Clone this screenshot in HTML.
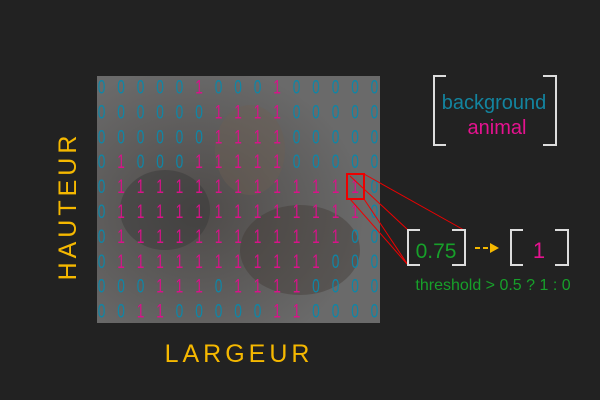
<!DOCTYPE html>
<html><head><meta charset="utf-8"><style>
html,body{margin:0;padding:0;background:#222;}
svg{display:block}
text{font-family:"Liberation Sans",sans-serif}
</style></head><body>
<svg width="600" height="400" viewBox="0 0 600 400" xmlns="http://www.w3.org/2000/svg">
<rect width="600" height="400" fill="#222"/>
<defs>
<radialGradient id="g1" cx="0.35" cy="0.55" r="0.6">
<stop offset="0" stop-color="#4e4a48"/><stop offset="1" stop-color="#6a6a6a"/>
</radialGradient>
</defs>
<rect x="97" y="76" width="283" height="247" fill="url(#g1)"/>
<ellipse cx="165" cy="210" rx="45" ry="40" fill="#3a3a3a" opacity="0.5"/>
<ellipse cx="250" cy="150" rx="35" ry="45" fill="#6e5e52" opacity="0.4"/>
<ellipse cx="300" cy="250" rx="60" ry="45" fill="#3e3632" opacity="0.4"/>
<g id="grid" font-size="19" text-anchor="middle" transform="scale(0.72,1)">
</g>
<rect x="347" y="174" width="17" height="25" fill="none" stroke="#e00" stroke-width="2"/>
<g stroke="#e00" stroke-width="1" fill="none">
<line x1="364" y1="174" x2="464" y2="230"/>
<line x1="350" y1="176" x2="408" y2="230"/>
<line x1="364" y1="199" x2="408" y2="265"/>
<line x1="350" y1="199" x2="408" y2="265"/>
</g>
<g stroke="#ddd" stroke-width="2" fill="none">
<polyline points="446,76 434,76 434,145 446,145"/>
<polyline points="543,76 556,76 556,145 543,145"/>
<polyline points="420,230 408,230 408,265 420,265"/>
<polyline points="452,230 465,230 465,265 452,265"/>
<polyline points="523,230 511,230 511,265 523,265"/>
<polyline points="555,230 568,230 568,265 555,265"/>
</g>
<text x="494" y="109" font-size="20" fill="#13849f" text-anchor="middle">background</text>
<text x="497" y="134" font-size="20" fill="#e5128f" text-anchor="middle">animal</text>
<text x="436" y="258" font-size="21" fill="#17a02a" text-anchor="middle">0.75</text>
<text x="539" y="258" font-size="22" fill="#e5128f" text-anchor="middle">1</text>
<line x1="475" y1="248" x2="492" y2="248" stroke="#f5b800" stroke-width="2" stroke-dasharray="5,3"/>
<polygon points="490,243 499,248 490,253" fill="#f5b800"/>
<text x="493" y="290" font-size="16" fill="#17a02a" text-anchor="middle">threshold &gt; 0.5 ? 1 : 0</text>
<text x="239" y="362" font-size="25" fill="#f5b800" text-anchor="middle" letter-spacing="4">LARGEUR</text>
<text transform="translate(76,206) rotate(-90)" font-size="25" fill="#f5b800" text-anchor="middle" letter-spacing="4">HAUTEUR</text>
</svg>
<script>
var rows=["000001000100000","000000111100000","000000111100000","010001111100000","011111111111110","011111111111110","011111111111100","011111111111000","000111011110000","001100000110000"];
var g=document.getElementById('grid'),s='';
rows.forEach(function(r,i){for(var j=0;j<15;j++){var c=r[j];s+='<text x="'+((101.5+j*19.5)/0.72)+'" y="'+(93.5+i*24.9)+'" fill="'+(c=='1'?'#d9128a':'#0f86a6')+'">'+c+'</text>';}});
g.innerHTML=s;
</script>
</body></html>
